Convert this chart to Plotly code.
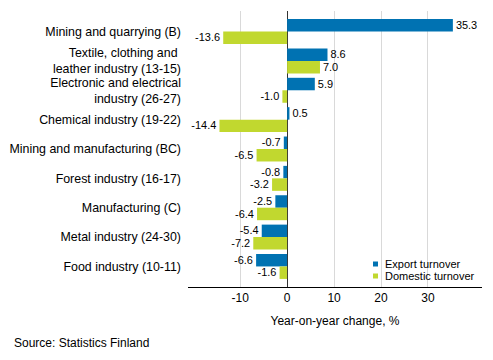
import plotly.graph_objects as go

categories = [
    "Mining and quarrying (B)",
    "Textile, clothing and <br>leather industry (13-15)",
    "Electronic and electrical<br>industry (26-27)",
    "Chemical industry (19-22)",
    "Mining and manufacturing (BC)",
    "Forest industry (16-17)",
    "Manufacturing (C)",
    "Metal industry (24-30)",
    "Food industry (10-11)",
]
export_turnover = [35.3, 8.6, 5.9, 0.5, -0.7, -0.8, -2.5, -5.4, -6.6]
domestic_turnover = [-13.6, 7.0, -1.0, -14.4, -6.5, -3.2, -6.4, -7.2, -1.6]
series_names = ["Export turnover", "Domestic turnover"]
x_ticks = [-10, 0, 10, 20, 30]
x_tick_labels = ["-10", "0", "10", "20", "30"]

BLUE = "#0072b2"
GREEN = "#c1d82f"
FONT = "Liberation Sans, Arial, sans-serif"

fig = go.Figure()
for vals, name, col in [(export_turnover, series_names[0], BLUE),
                        (domestic_turnover, series_names[1], GREEN)]:
    fig.add_trace(go.Bar(
        y=categories, x=vals, orientation="h", name=name,
        marker=dict(color=col, line=dict(width=0)),
        text=[f"{v:.1f}" for v in vals], textposition="outside",
        textfont=dict(size=12.3, color="#000"), cliponaxis=False, showlegend=False,
        hoverinfo="skip",
    ))

L, R, T, B = 188, 482, 11, 287
def px_x(p): return (p - L) / (R - L)
def px_y(p): return (B - p) / (B - T)

# manual legend (compact spacing like the reference)
shapes = []
annotations = []
leg_x0 = 373
leg_y = [264, 276]
for i, (name, col) in enumerate(zip(series_names, [BLUE, GREEN])):
    yc = leg_y[i]
    shapes.append(dict(type="rect", xref="paper", yref="paper",
                       x0=px_x(leg_x0), x1=px_x(leg_x0 + 5),
                       y0=px_y(yc + 2.5), y1=px_y(yc - 2.5),
                       fillcolor=col, line=dict(width=0)))
    annotations.append(dict(text=name, xref="paper", yref="paper",
                            x=px_x(leg_x0 + 10), y=px_y(yc), xanchor="left",
                            yanchor="middle", showarrow=False,
                            font=dict(size=11, color="#000")))

annotations.append(dict(text="Source: Statistics Finland", xref="paper", yref="paper",
                        x=px_x(12), y=px_y(343), xanchor="left",
                        yanchor="middle", showarrow=False, font=dict(size=12)))

fig.update_layout(
    width=493, height=360,
    margin=dict(l=L, r=493 - R, t=T, b=360 - B),
    paper_bgcolor="white", plot_bgcolor="white",
    font=dict(family=FONT, size=12, color="#000"),
    barmode="group", bargap=0.15, bargroupgap=0,
    showlegend=False,
    shapes=shapes,
    annotations=annotations,
)
fig.update_xaxes(
    range=[-21.1, 41.5], tickvals=x_ticks, ticktext=x_tick_labels,
    showgrid=True, gridcolor="#d9d9d9",
    gridwidth=1, zeroline=True, zerolinecolor="#333", zerolinewidth=1,
    showline=True, linecolor="#000", linewidth=1, ticks="",
    title=dict(text="Year-on-year change, %", standoff=12, font=dict(size=12)),
    tickfont=dict(size=12), automargin=False,
)
fig.update_yaxes(
    range=[8.7, -0.7], showgrid=False, ticks="", ticklabelstandoff=6,
    tickfont=dict(size=12.4), zeroline=False, automargin=False,
)

fig.write_html("out.html", post_script="document.body.style.margin='0';",
               config={"displayModeBar": False})
